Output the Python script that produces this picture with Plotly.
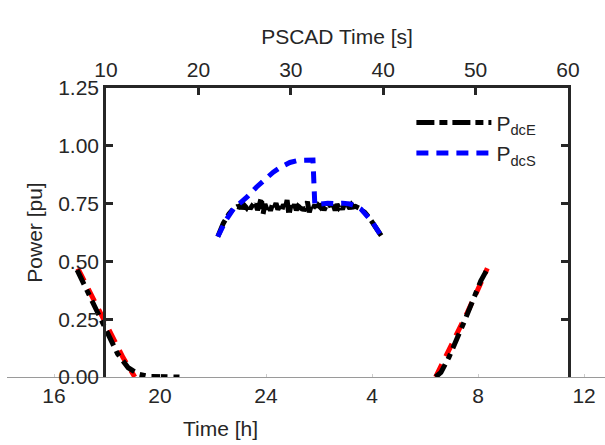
import plotly.graph_objects as go

# ---- PSCAD simulation (top axis, seconds) ----
pscad_s_E = [22.1, 22.7, 23.3, 23.8, 24.2,
             24.4, 24.6, 24.8, 25.0, 25.2, 25.4, 25.6, 25.8, 26.0, 26.2, 26.4, 26.6, 26.8, 27.0,
             27.2, 27.4, 27.6, 27.8, 28.0, 28.2, 28.4, 28.6, 28.8, 29.0, 29.2, 29.4, 29.6, 29.8,
             30.0, 30.2, 30.4, 30.6, 30.8, 31.0, 31.2, 31.4, 31.6, 31.8, 32.0, 32.2, 32.4, 32.6,
             32.8, 33.0, 33.2, 33.4, 33.6, 33.8, 34.0, 34.2, 34.4, 34.6, 34.8, 35.0, 35.2, 35.4,
             35.6, 35.8, 36.0, 36.2, 36.4, 36.6, 36.8, 37.0,
             37.5, 38.0, 38.5, 39.0, 39.5, 39.85]
P_dcE = [0.607, 0.665, 0.705, 0.728, 0.737,
         0.735, 0.745, 0.728, 0.741, 0.732, 0.748, 0.727, 0.739, 0.731, 0.750, 0.722, 0.744, 0.775, 0.705,
         0.748, 0.726, 0.742, 0.719, 0.745, 0.730, 0.752, 0.724, 0.738, 0.716, 0.747, 0.729, 0.765, 0.700,
         0.741, 0.726, 0.746, 0.721, 0.739, 0.733, 0.749, 0.718, 0.743, 0.758, 0.712, 0.740, 0.727, 0.745,
         0.723, 0.742, 0.734, 0.748, 0.721, 0.739, 0.730, 0.751, 0.726, 0.744, 0.720, 0.747, 0.732, 0.742,
         0.725, 0.749, 0.731, 0.740, 0.728, 0.745, 0.736, 0.738,
         0.728, 0.712, 0.688, 0.655, 0.625, 0.607]

pscad_s_S = [22.1, 23.0, 23.8, 24.6, 25.3, 26.3, 27.2, 28.1, 29.0, 29.9, 30.8, 31.7, 32.4,
             32.6, 33.2, 34.0, 34.8, 35.6, 36.4, 37.0, 37.6, 38.2, 38.8, 39.4, 39.85]
P_dcS = [0.607, 0.680, 0.728, 0.755, 0.780, 0.822, 0.856, 0.886, 0.910, 0.928, 0.937, 0.940, 0.938,
         0.745, 0.750, 0.752, 0.750, 0.752, 0.748, 0.740, 0.726, 0.700, 0.672, 0.634, 0.607]

# ---- Daily profile (bottom axis, hours; 28 = 04:00 next day) ----
day_h_black = [16.87, 17.2, 17.6, 18.0, 18.4, 18.8, 19.2, 19.6, 20.0, 20.75, None,
               30.4, 30.6, 30.9, 31.2, 31.5, 31.8, 32.1, 32.33]
day_p_black = [0.463, 0.385, 0.29, 0.19, 0.10, 0.04, 0.012, 0.002, 0.0, 0.0, None,
               0.0, 0.02, 0.085, 0.16, 0.245, 0.33, 0.415, 0.463]
day_h_red = [16.9, 17.5, 18.1, 18.6, 19.05, None, 30.4, 30.8, 31.2, 31.6, 32.0, 32.35]
day_p_red = [0.47, 0.335, 0.195, 0.085, 0.0, None, 0.0, 0.09, 0.18, 0.28, 0.38, 0.47]

hour_tickvals = [16, 20, 24, 28, 32, 36]
hour_ticktext = ["16", "20", "24", "4", "8", "12"]
pscad_ticks = [10, 20, 30, 40, 50, 60]
power_ticks = [0.0, 0.25, 0.5, 0.75, 1.0, 1.25]

W, H = 605, 445
TXT = "#262626"
FONT = "Liberation Sans, Arial, sans-serif"

fig = go.Figure()
fig.add_trace(go.Scatter(x=day_h_red, y=day_p_red, xaxis="x", yaxis="y", mode="lines",
                         line=dict(color="#ff0000", width=5, dash="14px,9px"),
                         showlegend=False, connectgaps=False))
fig.add_trace(go.Scatter(x=day_h_black, y=day_p_black, xaxis="x", yaxis="y", mode="lines",
                         line=dict(color="black", width=5, dash="16px,6px,6px,6px"),
                         showlegend=False, connectgaps=False))
fig.add_trace(go.Scatter(x=pscad_s_E, y=P_dcE, xaxis="x2", yaxis="y2", mode="lines",
                         name="P<sub>dcE</sub>",
                         line=dict(color="black", width=5, dash="18px,5px,8px,5px")))
fig.add_trace(go.Scatter(x=pscad_s_S, y=P_dcS, xaxis="x2", yaxis="y2", mode="lines",
                         name="P<sub>dcS</sub>",
                         line=dict(color="#0000ff", width=5, dash="12px,8px")))

fig.update_layout(
    width=W, height=H,
    margin=dict(l=0, r=0, t=88, b=68),
    paper_bgcolor="white", plot_bgcolor="rgba(0,0,0,0)",
    font=dict(family=FONT, size=21, color=TXT),
    xaxis=dict(domain=[7 / W, 1.0], anchor="y", side="bottom", automargin=False,
               range=[14.226, 36.79], tickvals=hour_tickvals, ticktext=hour_ticktext,
               showline=True, linecolor="#9a9a9a", linewidth=1, showgrid=False, zeroline=False,
               ticks="inside", ticklen=3, tickcolor="#cccccc",
               tickfont=dict(size=21, color=TXT)),
    yaxis=dict(domain=[0, 1], anchor="x", range=[0, 1.25], visible=False, automargin=False),
    xaxis2=dict(domain=[106 / W, 568 / W], anchor="y2", side="top", automargin=False,
                range=[10, 60], tickvals=pscad_ticks,
                title=dict(text="PSCAD Time [s]", font=dict(size=21, color=TXT), standoff=8),
                showline=True, linecolor=TXT, linewidth=2.5, mirror=False,
                ticks="inside", ticklen=7, tickwidth=2.5, tickcolor=TXT,
                showgrid=False, zeroline=False, tickfont=dict(size=21, color=TXT)),
    yaxis2=dict(domain=[0, 1], anchor="x2", range=[0, 1.25], tickvals=power_ticks,
                tickformat=".2f", automargin=False,
                title=dict(text="Power [pu]", font=dict(size=21, color=TXT), standoff=10),
                showline=True, linecolor=TXT, linewidth=2.5, mirror="ticks",
                ticks="inside", ticklen=7, tickwidth=2.5, tickcolor=TXT,
                showgrid=False, zeroline=False, tickfont=dict(size=21, color=TXT)),
    legend=dict(x=0.68, y=0.95, xanchor="left", yanchor="top",
                bgcolor="rgba(0,0,0,0)", borderwidth=0,
                font=dict(size=21, color=TXT), itemwidth=75, tracegroupgap=0),
    annotations=[dict(text="Time [h]", xref="paper", yref="paper",
                      x=220 / W, y=-(428 - 377) / 289, xanchor="center", yanchor="middle",
                      showarrow=False, font=dict(size=21, color=TXT))],
)

fig.write_html("out.html", config={"displayModeBar": False},
               post_script="document.body.style.margin='0px';document.body.style.overflow='hidden';")
